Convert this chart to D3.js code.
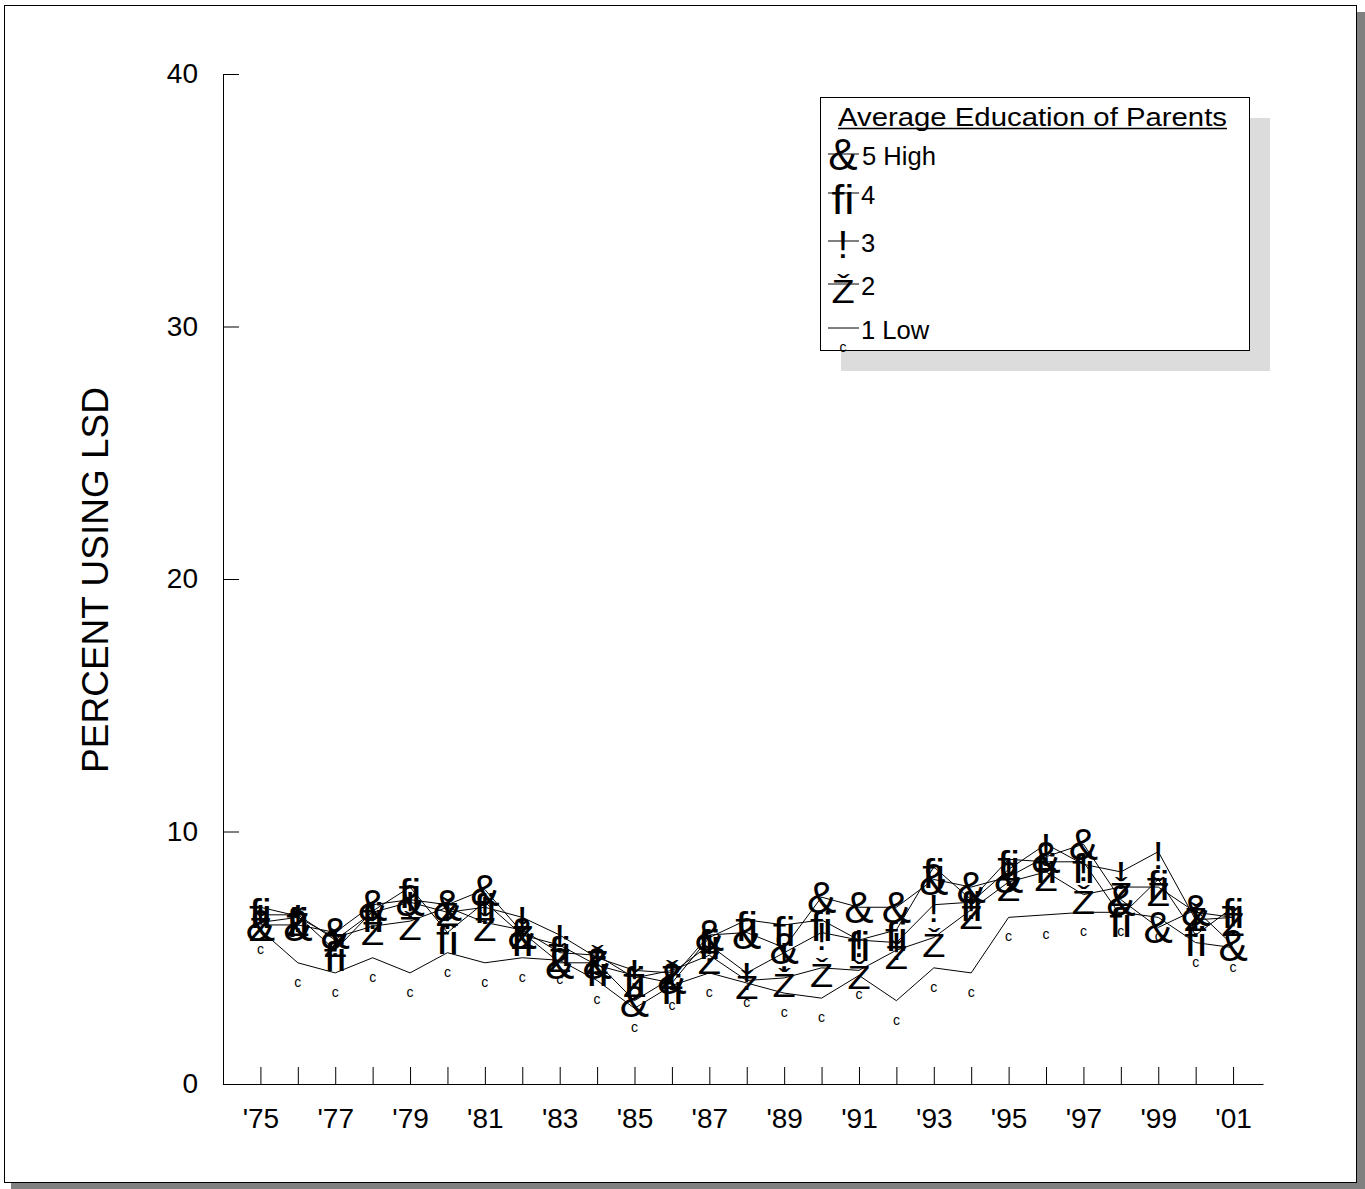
<!DOCTYPE html>
<html>
<head>
<meta charset="utf-8">
<script src="https://cdn.jsdelivr.net/npm/d3@7"></script>
<style>
  body { margin: 0; background: #fff; }
  text { font-family: "Liberation Sans", Arial, sans-serif; }
</style>
</head>
<body>
<div id="grafiek"></div>
<script>
// jaren en tick labels
const years = [1975, 1976, 1977, 1978, 1979, 1980, 1981, 1982, 1983, 1984, 1985, 1986, 1987, 1988,
  1989, 1990, 1991, 1992, 1993, 1994, 1995, 1996, 1997, 1998, 1999, 2000, 2001];
const yearLabels = ["'75", "'77", "'79", "'81", "'83", "'85", "'87", "'89", "'91", "'93", "'95", "'97", "'99", "'01"];
const yTicks = [0, 10, 20, 30, 40];

// percentages per opleidingsniveau
const high5 = [6.3, 6.3, 6.0, 7.1, 7.3, 7.1, 7.7, 6.0, 4.8, 4.8, 3.3, 4.2, 5.9, 6.0, 5.4, 7.4, 7.0, 7.0, 8.1, 7.8, 8.2, 9.0, 9.5, 7.3, 6.2, 6.9, 5.5];
const level4 = [7.0, 6.65, 5.3, 6.85, 7.8, 6.0, 7.2, 5.9, 5.5, 4.7, 4.3, 4.0, 5.8, 6.5, 6.3, 6.5, 5.7, 6.1, 8.6, 7.3, 8.9, 8.8, 8.8, 6.65, 8.1, 5.9, 7.0];
const level3 = [6.7, 6.7, 5.7, 6.8, 7.2, 6.8, 7.0, 6.6, 5.9, 5.0, 4.5, 4.4, 5.5, 4.4, 5.2, 6.0, 5.7, 5.6, 7.1, 7.2, 8.5, 9.5, 8.7, 8.4, 9.2, 6.5, 6.6];
const level2 = [6.4, 6.6, 5.8, 6.25, 6.45, 7.0, 6.4, 6.1, 5.2, 5.1, 4.2, 4.5, 5.1, 4.1, 4.2, 4.6, 4.5, 5.3, 5.8, 6.9, 8.0, 8.4, 7.5, 7.8, 7.8, 6.8, 6.6];
const low1 = [6.1, 4.8, 4.4, 5.0, 4.4, 5.2, 4.8, 5.0, 4.9, 4.1, 3.0, 3.9, 4.4, 4.0, 3.6, 3.4, 4.3, 3.3, 4.6, 4.4, 6.6, 6.7, 6.8, 6.8, 6.6, 5.6, 5.4];

const seriesNames = ["5 High", "4", "3", "2", "1 Low"];
const seriesGlyphs = ["&", "\uFB01", "!", "\u017D", "c"];

// tekens als markers: grootte, verschuiving en horizontale rek
const series = [
  { name: seriesNames[0], glyph: seriesGlyphs[0], values: high5, size: 44, dy: 16, sx: 1.0 },
  { name: seriesNames[1], glyph: seriesGlyphs[1], values: level4, size: 41, dy: 21, sx: 1.12 },
  { name: seriesNames[2], glyph: seriesGlyphs[2], values: level3, size: 39, dy: 17, sx: 1.0 },
  { name: seriesNames[3], glyph: seriesGlyphs[3], values: level2, size: 33, dy: 19, sx: 1.15 },
  { name: seriesNames[4], glyph: seriesGlyphs[4], values: low1, size: 14, dy: 24, sx: 1.0 }
];

const W = 1365, H = 1189;

const svg = d3.select('#grafiek')
  .append('svg')
  .attr('width', W)
  .attr('height', H);

// kader met schaduw
svg.append('rect').attr('x', 11).attr('y', 12).attr('width', W - 11).attr('height', H - 12).attr('fill', '#808080');
svg.append('rect').attr('x', 4.5).attr('y', 5.5).attr('width', 1352).attr('height', 1177)
  .attr('fill', 'white').attr('stroke', 'black').attr('stroke-width', 1);

const x = d3.scaleLinear()
  .domain([1974, 2001.8])
  .range([223, 1263]);

const y = d3.scaleLinear()
  .domain([0, 40])
  .range([1084, 74]);

// Y as
const yAxis = svg.append('g')
  .attr('transform', 'translate(223,0)')
  .call(d3.axisLeft(y).tickValues(yTicks).tickSizeInner(-16).tickSizeOuter(0).tickPadding(25));
yAxis.select('.domain').attr('stroke', 'black');
yAxis.selectAll('text').attr('font-size', 28).attr('font-family', '"Liberation Sans", Arial, sans-serif').attr('fill', 'black');

// X as
const xAxis = svg.append('g')
  .attr('transform', 'translate(0,1084)')
  .call(d3.axisBottom(x).tickValues(years).tickSizeInner(-17).tickSizeOuter(0).tickFormat((d, i) => i % 2 === 0 ? yearLabels[i / 2] : ''));
xAxis.select('.domain').attr('stroke', 'black');
xAxis.selectAll('text').attr('font-size', 28).attr('font-family', '"Liberation Sans", Arial, sans-serif')
  .attr('fill', 'black').attr('y', 44).attr('dy', 0);

svg.append('text')
  .attr('transform', 'translate(108,580) rotate(-90)')
  .attr('text-anchor', 'middle')
  .attr('font-size', 37)
  .text('PERCENT USING LSD');

// lijnen
const line = d3.line()
  .x((d, i) => x(years[i]))
  .y(d => y(d));

series.forEach(s => {
  svg.append('path')
    .datum(s.values)
    .attr('d', line)
    .attr('fill', 'none')
    .attr('stroke', 'black')
    .attr('stroke-width', 1);
});

// markers als tekens
series.forEach(s => {
  svg.append('g')
    .selectAll('text')
    .data(s.values)
    .enter()
    .append('text')
      .attr('transform', (d, i) => `translate(${x(years[i])},${y(d) + s.dy}) scale(${s.sx},1)`)
      .attr('text-anchor', 'middle')
      .attr('font-size', s.size)
      .text(s.glyph);
});

// legenda
const lg = svg.append('g');
lg.append('rect').attr('x', 841).attr('y', 118).attr('width', 429).attr('height', 253).attr('fill', '#dcdcdc');
lg.append('rect').attr('x', 820.5).attr('y', 97.5).attr('width', 429).attr('height', 253)
  .attr('fill', 'white').attr('stroke', 'black');
lg.append('text').attr('x', 838).attr('y', 126).attr('font-size', 25.6)
  .attr('textLength', 389).attr('lengthAdjust', 'spacingAndGlyphs')
  .text('Average Education of Parents');
lg.append('line').attr('x1', 838).attr('x2', 1227).attr('y1', 128.5).attr('y2', 128.5).attr('stroke', 'black').attr('stroke-width', 1.5);

const rowY = [154, 193, 241, 284, 328];
series.forEach((s, i) => {
  lg.append('line').attr('x1', 828).attr('x2', 859).attr('y1', rowY[i]).attr('y2', rowY[i]).attr('stroke', 'black');
  lg.append('text').attr('transform', `translate(843,${rowY[i] + s.dy}) scale(${s.sx},1)`).attr('text-anchor', 'middle')
    .attr('font-size', s.size).text(s.glyph);
  lg.append('text').attr('x', i === 0 ? 862 : 861).attr('y', rowY[i] + 11).attr('font-size', 25.6).text(s.name);
});
</script>
</body>
</html>
